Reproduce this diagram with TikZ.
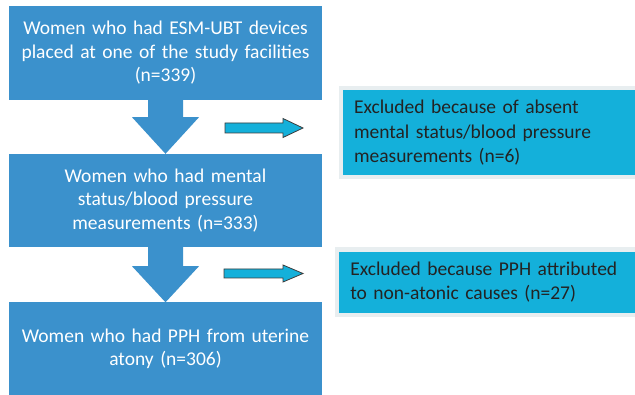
\documentclass[tikz,border=0pt]{standalone}
\usepackage{fontspec}
\setmainfont{Carlito}
\usetikzlibrary{calc}
\definecolor{boxblue}{RGB}{59,145,204}
\definecolor{exccyan}{RGB}{20,176,218}
\definecolor{excgray}{RGB}{232,238,240}
\definecolor{exctext}{RGB}{35,35,35}
\definecolor{arrline}{RGB}{60,60,60}
\tikzset{
  mainbox/.style={fill=boxblue, text=white, inner sep=0pt, minimum width=313pt,
    text width=300pt, align=center, font=\fontsize{19.5}{23.5}\selectfont},
  excbox/.style={fill=exccyan, draw=excgray, text=exctext, anchor=west,
    font=\fontsize{19.5}{24.5}\selectfont, align=left, inner ysep=0pt},
  downarrow/.style={fill=boxblue},
  sidearrow/.style={fill=exccyan, draw=arrline, line width=0.8pt, line join=miter}
}
\begin{document}
\begin{tikzpicture}[x=1pt,y=-1pt]
\useasboundingbox (0,0) rectangle (635,395);
\fill[white] (0,0) rectangle (635,395);
\begin{scope}
\clip (0,0) rectangle (635,395);
\node[mainbox, minimum height=94pt] (b1) at (165.5,53)
  {Women who had ESM-UBT devices\\placed at one of the study facilities\\(n=339)};
\node[mainbox, minimum height=93pt] (b2) at (165.5,200.5)
  {Women who had mental\\status/blood pressure\\measurements (n=333)};
\node[mainbox, minimum height=93pt] (b3) at (165.5,349)
  {Women who had PPH from uterine\\atony (n=306)};
\node[excbox, line width=4pt, minimum width=311pt, minimum height=89.5pt,
  inner xsep=13pt, text width=285pt] (e1) at (339,132.75)
  {Excluded because of absent\\mental status/blood pressure\\measurements (n=6)};
\node[excbox, line width=4.5pt, minimum width=311pt, minimum height=65.5pt,
  inner xsep=13.5pt, text width=284pt] (e2) at (334.5,282.25)
  {Excluded because PPH attributed\\to non-atonic causes (n=27)};
% down arrows
\fill[downarrow] ($(b1.south)+(-17.5,0)$) -- ($(b1.south)+(17.5,0)$)
  -- ($(b1.south)+(17.5,17)$) -- ($(b1.south)+(33.5,17)$) -- (b2.north)
  -- ($(b1.south)+(-33.5,17)$) -- ($(b1.south)+(-17.5,17)$) -- cycle;
\fill[downarrow] ($(b2.south)+(-17.5,0)$) -- ($(b2.south)+(17.5,0)$)
  -- ($(b2.south)+(17.5,19)$) -- ($(b2.south)+(33.5,19)$) -- (b3.north)
  -- ($(b2.south)+(-33.5,19)$) -- ($(b2.south)+(-17.5,19)$) -- cycle;
% side arrows
\coordinate (r1) at (225,128);
\coordinate (r2) at (224,273.5);
\draw[sidearrow] ($(r1)+(0,-5)$) -- ($(r1)+(58,-5)$) -- ($(r1)+(58,-9.5)$)
  -- ($(r1)+(78,0)$) -- ($(r1)+(58,9.5)$) -- ($(r1)+(58,5)$) -- ($(r1)+(0,5)$) -- cycle;
\draw[sidearrow] ($(r2)+(0,-4.5)$) -- ($(r2)+(59,-4.5)$) -- ($(r2)+(59,-8.5)$)
  -- ($(r2)+(79,0)$) -- ($(r2)+(59,8.5)$) -- ($(r2)+(59,4.5)$) -- ($(r2)+(0,4.5)$) -- cycle;
\end{scope}
\end{tikzpicture}
\end{document}
